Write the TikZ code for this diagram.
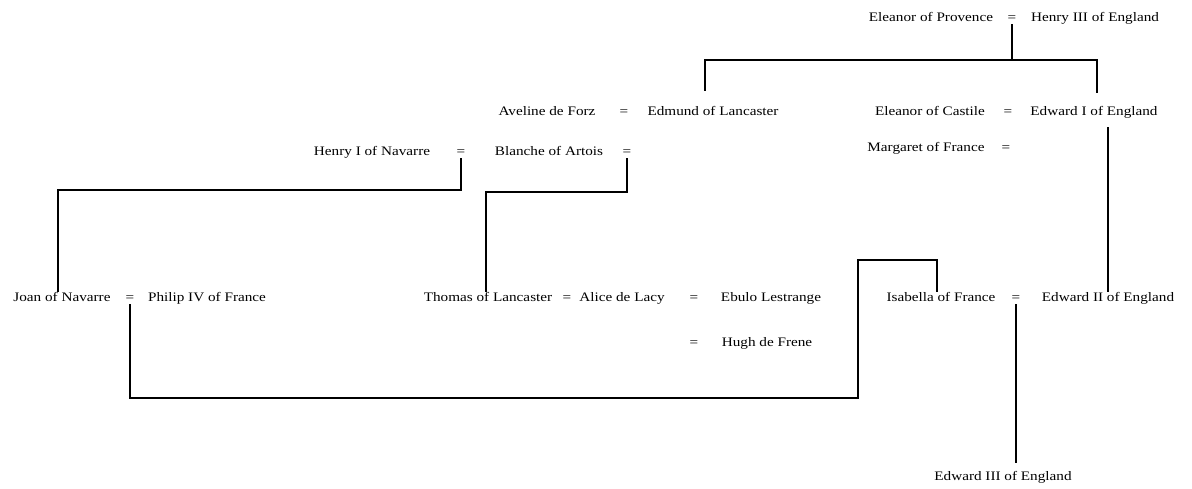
\documentclass[tikz,border=0pt]{standalone}
\usepackage{fontspec}
\setmainfont{Liberation Serif}[FakeStretch=1.17]
\begin{document}
\begin{tikzpicture}[x=1pt,y=1pt,
  nm/.style={inner sep=1pt, text height=9pt, text depth=3pt, font=\fontsize{13}{15}\selectfont},
  ln/.style={line width=1.5pt, line cap=rect}]
\useasboundingbox (0,0) rectangle (1192,-488);
% generation 1
\node[nm] (ep) at (931,-18) {Eleanor of Provence};
\node[nm] (eq1) at (1012,-18) {=};
\node[nm] (h3) at (1095,-18) {Henry III of England};
% generation 2
\node[nm] (av) at (547,-112) {Aveline de Forz};
\node[nm] (eq2) at (624,-112) {=};
\node[nm] (ed) at (713,-112) {Edmund of Lancaster};
\node[nm] (ec) at (930,-112) {Eleanor of Castile};
\node[nm] (eq3) at (1008,-112) {=};
\node[nm] (e1) at (1094,-112) {Edward I of England};
\node[nm] (mf) at (926,-148) {Margaret of France};
\node[nm] (eq4) at (1006,-148) {=};
\node[nm] (hn) at (372,-152) {Henry I of Navarre};
\node[nm] (eq5) at (461,-152) {=};
\node[nm] (ba) at (549,-152) {Blanche of Artois};
\node[nm] (eq6) at (627,-152) {=};
% generation 3
\node[nm] (jn) at (62,-298) {Joan of Navarre};
\node[nm] (eq7) at (130,-298) {=};
\node[nm] (ph) at (207,-298) {Philip IV of France};
\node[nm] (tl) at (488,-298) {Thomas of Lancaster};
\node[nm] (eq8) at (567,-298) {=};
\node[nm] (al) at (622,-298) {Alice de Lacy};
\node[nm] (eq9) at (694,-298) {=};
\node[nm] (eb) at (771,-298) {Ebulo Lestrange};
\node[nm] (eq10) at (694,-343) {=};
\node[nm] (hf) at (767,-343) {Hugh de Frene};
\node[nm] (isa) at (941,-298) {Isabella of France};
\node[nm] (eq11) at (1016,-298) {=};
\node[nm] (e2) at (1108,-298) {Edward II of England};
% generation 4
\node[nm] (e3) at (1003,-477) {Edward III of England};
% bends and free ends
\coordinate (k1) at (705,-60);
\coordinate (k2) at (1097,-60);
\coordinate (k1e) at (705,-90);
\coordinate (k2e) at (1097,-92);
\coordinate (k3) at (1108,-128);
\coordinate (k5) at (58,-190);
\coordinate (k6) at (486,-192);
\coordinate (k7) at (858,-398);
\coordinate (k8) at (858,-260);
\coordinate (k9) at (937,-260);
\coordinate (k11) at (1016,-462);
% connectors
\draw[ln] (eq1.south) -- (eq1.south |- k1);
\draw[ln] (k1e) -- (k1) -- (k2) -- (k2e);
\draw[ln] (k3) -- (e2.north);
\draw[ln] (eq5.south) |- (k5) -- (k5 |- jn.north);
\draw[ln] (eq6.south) |- (k6) -- (k6 |- tl.north);
\draw[ln] (eq7.south) |- (k7) -- (k8) -- (k9) -- (k9 |- isa.north);
\draw[ln] (eq11.south) -- (k11);
\end{tikzpicture}
\end{document}
